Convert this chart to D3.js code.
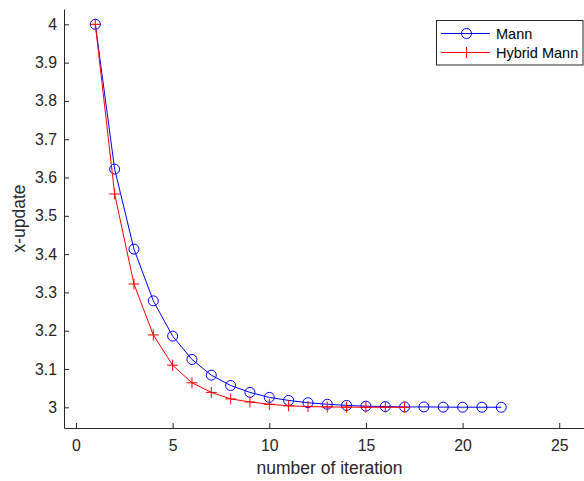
<!DOCTYPE html>
<html>
<head>
<meta charset="utf-8">
<script src="https://cdn.jsdelivr.net/npm/d3@7"></script>
<style>
  html, body { margin: 0; padding: 0; background: #fff; }
  svg { display: block; font-family: "Liberation Sans", Arial, sans-serif; }
</style>
</head>
<body>
<svg id="chart" width="584" height="481"></svg>
<script>
// ---- data ----
const mannIter = [1,2,3,4,5,6,7,8,9,10,11,12,13,14,15,16,17,18,19,20,21,22];
const mannValues = [4.000, 3.622, 3.413, 3.278, 3.186, 3.125, 3.084, 3.057, 3.039, 3.026, 3.018, 3.012,
                    3.008, 3.005, 3.003, 3.002, 3.001, 3.001, 3.0005, 3.0003, 3.0002, 3.0001];
const hybridIter = [1,2,3,4,5,6,7,8,9,10,11,12,13,14,15,16,17];
const hybridValues = [4.000, 3.557, 3.322, 3.189, 3.110, 3.064, 3.039, 3.022, 3.014, 3.008, 3.004, 3.002,
                      3.001, 3.0005, 3.0002, 3.0001, 3.0000];
const xTicks = [0, 5, 10, 15, 20, 25];
const yTicks = [3, 3.1, 3.2, 3.3, 3.4, 3.5, 3.6, 3.7, 3.8, 3.9, 4];
const seriesNames = ["Mann", "Hybrid Mann"];
const xLabel = "number of iteration";
const yLabel = "x-update";

// ---- layout ----
const mLeft = 64, mRight = 595, mTop = 9, mBottom = 428;
const svg = d3.select("#chart");
const x = d3.scaleLinear().domain([-0.62, 26.85]).range([mLeft, mRight]);
const y = d3.scaleLinear().domain([2.946, 4.04]).range([mBottom, mTop]);
const axisColor = "#262626";
const textColor = "#262626";

const gx = svg.append("g").attr("transform", `translate(0,${mBottom})`)
  .call(d3.axisBottom(x).tickValues(xTicks).tickSizeInner(-5).tickSizeOuter(0).tickPadding(12).tickFormat(d3.format("d")));
const gy = svg.append("g").attr("transform", `translate(${mLeft},0)`)
  .call(d3.axisLeft(y).tickValues(yTicks).tickSizeInner(-5).tickSizeOuter(0).tickPadding(7).tickFormat(d => String(+d.toFixed(1))));
[gx, gy].forEach(g => {
  g.select(".domain").attr("stroke", axisColor).attr("stroke-width", 1);
  g.selectAll(".tick line").attr("stroke", axisColor);
  g.selectAll(".tick text").attr("fill", textColor).style("font-size", "15.8px").style("font-family", "Liberation Sans, Arial, sans-serif");
});

svg.append("text").attr("x", (mLeft + mRight) / 2).attr("y", 474)
  .attr("text-anchor", "middle").attr("fill", textColor).style("font-size", "17.5px").text(xLabel);
svg.append("text").attr("transform", `translate(25,${(mTop + mBottom) / 2}) rotate(-90)`)
  .attr("text-anchor", "middle").attr("fill", textColor).style("font-size", "17.5px").text(yLabel);

const line = d3.line().x(d => x(d[0])).y(d => y(d[1]));
const mann = mannIter.map((t, i) => [t, mannValues[i]]);
const hyb = hybridIter.map((t, i) => [t, hybridValues[i]]);

// Mann (blue, circles)
svg.append("path").datum(mann).attr("d", line).attr("fill", "none").attr("stroke", "#0000ff").attr("stroke-width", 1);
svg.append("g").selectAll("circle").data(mann).join("circle")
  .attr("cx", d => x(d[0])).attr("cy", d => y(d[1])).attr("r", 5)
  .attr("fill", "none").attr("stroke", "#0000ff").attr("stroke-width", 1);

// Hybrid Mann (red, plus)
svg.append("path").datum(hyb).attr("d", line).attr("fill", "none").attr("stroke", "#ff0000").attr("stroke-width", 1);
svg.append("g").selectAll("path").data(hyb).join("path")
  .attr("d", d => { const cx = x(d[0]), cy = y(d[1]), s = 5.5; return `M${cx - s},${cy}H${cx + s}M${cx},${cy - s}V${cy + s}`; })
  .attr("fill", "none").attr("stroke", "#ff0000").attr("stroke-width", 1);

// legend
const lg = svg.append("g");
lg.append("rect").attr("x", 436.5).attr("y", 20.5).attr("width", 146.5).attr("height", 44.5)
  .attr("fill", "#fff").attr("stroke", axisColor).attr("stroke-width", 1);
const rows = [33.5, 52.5];
const colors = ["#0000ff", "#ff0000"];
seriesNames.forEach((name, i) => {
  const ry = rows[i];
  lg.append("line").attr("x1", 441).attr("x2", 490).attr("y1", ry).attr("y2", ry).attr("stroke", colors[i]).attr("stroke-width", 1);
  if (i === 0) {
    lg.append("circle").attr("cx", 466.5).attr("cy", ry).attr("r", 5).attr("fill", "none").attr("stroke", colors[i]);
  } else {
    lg.append("path").attr("d", `M466.5,${ry - 5.5}V${ry + 5.5}`).attr("stroke", colors[i]);
  }
  lg.append("text").attr("x", 496).attr("y", ry).attr("dy", "0.35em").attr("fill", "#000")
    .style("font-size", "14.5px").text(name);
});
</script>
</body>
</html>
